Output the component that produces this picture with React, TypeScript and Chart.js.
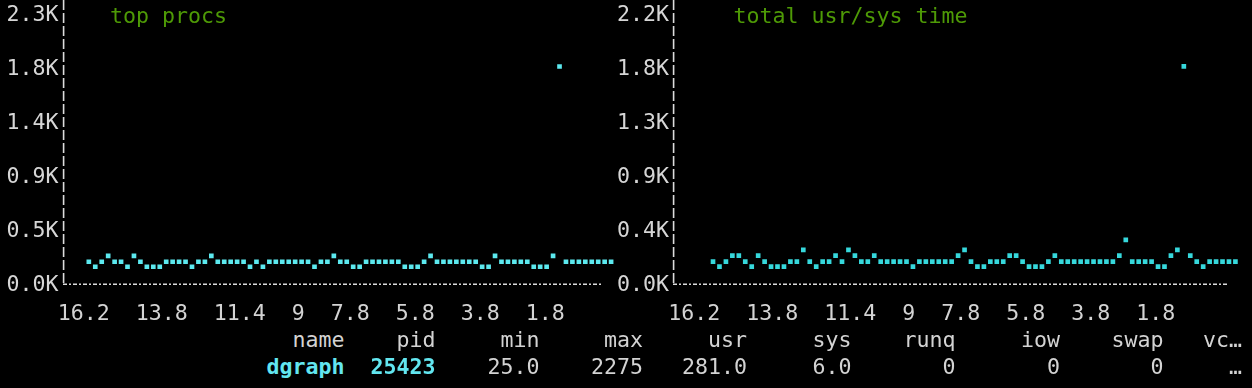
import React, { useEffect, useRef } from "react";
import { Chart, registerables } from "chart.js";

Chart.register(...registerables);

// ---------- data ----------
const PROC_VALUES = [
  200, 158, 200, 250, 200, 200, 158, 250, 200, 158, 158, 158, 200, 200, 200, 200, 158, 200, 200, 250, 200, 200, 200, 200, 200, 158, 200, 158,
  200, 200, 200, 200, 200, 200, 200, 158, 200, 200, 250, 200, 200, 158, 158, 200, 200, 200, 200, 200, 200, 158, 158, 158, 200, 250, 200,
  200, 200, 200, 200, 200, 200, 158, 158, 250, 200, 200, 200, 200, 200, 158, 158, 158, 250, 1845, 200, 200, 200, 200, 200, 200, 200, 200,
];
const USRSYS_VALUES = [
  195, 154, 195, 244, 244, 195, 154, 244, 195, 154, 154, 154, 195, 195, 291, 195, 154, 195, 195, 244, 195, 291, 244, 195, 195, 244, 195,
  195, 195, 195, 195, 154, 195, 195, 195, 195, 195, 195, 244, 291, 195, 154, 154, 195, 195, 195, 244, 244, 195, 154, 154, 154, 195, 244, 195,
  195, 195, 195, 195, 195, 195, 195, 195, 244, 373, 195, 195, 195, 195, 154, 154, 244, 291, 1794, 244, 195, 154, 195, 195, 195, 195, 195,
];
const PROC_MAX = 2275;
const USRSYS_MAX = 2210;
const PROC_TITLE = "top procs";
const USRSYS_TITLE = "total usr/sys time";
const X_TICK_LABELS = ["16.2", "13.8", "11.4", "9", "7.8", "5.8", "3.8", "1.8"];
const TABLE_HEADERS = ["name", "pid", "min", "max", "usr", "sys", "runq", "iow", "swap", "vc…"];
const TABLE_ROW = ["dgraph", "25423", "25.0", "2275", "281.0", "6.0", "0", "0", "0", "…"];
const TABLE_HIGHLIGHT = [true, true, false, false, false, false, false, false, false, false];

// ---------- layout / style ----------
const W = 1252;
const H = 388;
const BG = "#000000";
const LABEL_COLOR = "#d6d6d6";
const TITLE_COLOR = "#4e9a06";
const AXIS_COLOR = "#dcdcdc";
const TEXT_COLOR = "#d3d3d3";
const HIGHLIGHT_COLOR = "#62e6f0";
const FONT = "'DejaVu Sans Mono', monospace";
const FONT_SIZE = 21.6;
const ROW_H = 27;

const LEFT_PANEL = {
  canvasLeft: 0, canvasWidth: 626, xMin: -3.85, xMax: 82.69, axisLen: 539, titleLeft: 110,
  tickPad: 5.5, tickRowLeft: 57.7,
  color: "#5ce9ef",
};
const RIGHT_PANEL = {
  canvasLeft: 610, canvasWidth: 642, xMin: -6.05, xMax: 82.95, axisLen: 554, titleLeft: 733.5,
  tickPad: 5, tickRowLeft: 668.2,
  color: "#36d8dc",
};
const TABLE_RIGHT_EDGES = [344.5, 435.5, 539.5, 643, 747, 851.5, 955.5, 1060, 1163.5, 1242];
const CANVAS_H = 300;
const PLOT_TOP = 15.5;
const PLOT_BOTTOM = 285.5;
const AXIS_Y = 284.2;
const ROW_CENTERS = { title: 15, ticks: 312, header: 339, data: 366 };

type Panel = typeof LEFT_PANEL;

const textStyle = (center: number): React.CSSProperties => ({
  position: "absolute",
  top: center - ROW_H / 2,
  height: ROW_H,
  lineHeight: `${ROW_H}px`,
  fontFamily: FONT,
  fontSize: FONT_SIZE,
  whiteSpace: "pre",
});

function PlotPanel({ values, max, panel, title }: { values: number[]; max: number; panel: Panel; title: string }) {
  const ref = useRef<HTMLCanvasElement | null>(null);
  useEffect(() => {
    if (!ref.current) return;
    const axisPlugin = {
      id: "termAxes",
      afterDraw(chart: any) {
        const ctx = chart.ctx;
        const a = chart.chartArea;
        ctx.save();
        ctx.strokeStyle = AXIS_COLOR;
        ctx.lineWidth = 1.6;
        ctx.setLineDash([10, 3]);
        ctx.beginPath();
        ctx.moveTo(a.left - 0.4, 0);
        ctx.lineTo(a.left - 0.4, AXIS_Y);
        ctx.stroke();
        ctx.setLineDash([4, 2, 2, 2]);
        ctx.beginPath();
        ctx.moveTo(a.left - 1, AXIS_Y);
        ctx.lineTo(a.left + panel.axisLen, AXIS_Y);
        ctx.stroke();
        ctx.restore();
      },
    };
    const chart = new Chart(ref.current, {
      type: "scatter",
      data: {
        datasets: [
          {
            data: values.map((v, i) => ({ x: i, y: v })),
            pointStyle: "rect",
            pointRadius: 3.3,
            pointBackgroundColor: panel.color,
            pointBorderWidth: 0,
            showLine: false,
          },
        ],
      },
      options: {
        animation: false,
        responsive: false,
        maintainAspectRatio: false,
        events: [],
        layout: { padding: { top: PLOT_TOP, bottom: CANVAS_H - PLOT_BOTTOM, left: 0, right: 0 } },
        plugins: { legend: { display: false }, tooltip: { enabled: false }, title: { display: false } },
        scales: {
          x: { type: "linear", display: false, min: panel.xMin, max: panel.xMax },
          y: {
            min: 0,
            max,
            afterFit(scale: any) {
              scale.width = 64;
              scale.paddingTop = 0;
              scale.paddingBottom = 0;
            },
            grid: { display: false, drawTicks: false },
            border: { display: false },
            ticks: {
              stepSize: max / 5,
              padding: panel.tickPad,
              color: LABEL_COLOR,
              font: { family: FONT, size: FONT_SIZE },
              callback: (v: any) => (Number(v) / 1000).toFixed(1) + "K",
            },
          },
        },
      } as any,
      plugins: [axisPlugin],
    });
    return () => chart.destroy();
  }, [values, max, panel]);

  return (
    <>
      <canvas
        ref={ref}
        width={panel.canvasWidth}
        height={CANVAS_H}
        style={{ position: "absolute", left: panel.canvasLeft, top: 0, width: panel.canvasWidth, height: CANVAS_H }}
      />
      <div style={{ ...textStyle(ROW_CENTERS.title), left: panel.titleLeft, color: TITLE_COLOR }}>{title}</div>
      <div style={{ ...textStyle(ROW_CENTERS.ticks), left: panel.tickRowLeft, color: TEXT_COLOR }}>
        {X_TICK_LABELS.join("  ")}
      </div>
    </>
  );
}

function TableRow({ cells, center, highlight }: { cells: string[]; center: number; highlight?: boolean[] }) {
  return (
    <>
      {cells.map((c, i) => {
        const hi = !!(highlight && highlight[i]);
        return (
          <div
            key={i}
            style={{
              ...textStyle(center),
              right: W - TABLE_RIGHT_EDGES[i],
              fontWeight: hi ? "bold" : "normal",
              color: hi ? HIGHLIGHT_COLOR : TEXT_COLOR,
            }}
          >
            {c}
          </div>
        );
      })}
    </>
  );
}

export default function App() {
  return (
    <div
      style={{
        position: "fixed",
        left: 0,
        top: 0,
        width: W,
        height: H,
        background: BG,
        overflow: "hidden",
      }}
    >
      <PlotPanel values={PROC_VALUES} max={PROC_MAX} panel={LEFT_PANEL} title={PROC_TITLE} />
      <PlotPanel values={USRSYS_VALUES} max={USRSYS_MAX} panel={RIGHT_PANEL} title={USRSYS_TITLE} />
      <TableRow cells={TABLE_HEADERS} center={ROW_CENTERS.header} />
      <TableRow cells={TABLE_ROW} center={ROW_CENTERS.data} highlight={TABLE_HIGHLIGHT} />
    </div>
  );
}
